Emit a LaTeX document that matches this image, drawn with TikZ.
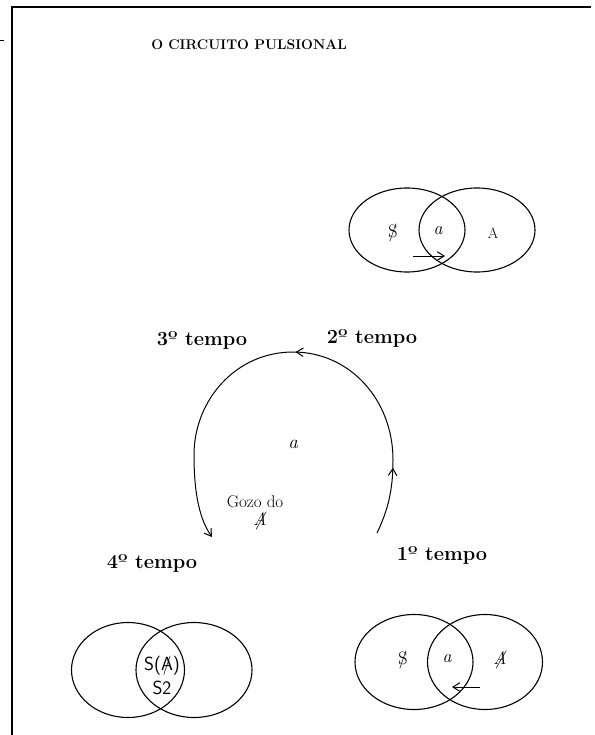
\documentclass[tikz,border=0pt]{standalone}
\usepackage{fontspec}
\usetikzlibrary{positioning, arrows.meta, shapes.geometric, decorations.markings}
\newcommand{\barrado}[1]{\ooalign{#1\cr\hidewidth/\hidewidth}}

\begin{document}
\begin{tikzpicture}[x=1pt, y=-1pt,
      conjunto/.style={draw, ellipse, line width=1.1pt, inner sep=0pt,
                       minimum width=116pt, minimum height=90pt},
      letra/.style={font=\fontsize{18}{20}\selectfont, inner sep=1pt},
      tempo/.style={font=\fontsize{20}{22}\selectfont\bfseries},
      titulo/.style={font=\fontsize{14}{16}\selectfont\bfseries},
      fio/.style={line width=1.1pt},
      seta/.style={-{Straight Barb[length=2.4mm, width=3mm]}, line width=1pt},
      >={Straight Barb[length=2.4mm, width=3mm]}]
    \useasboundingbox (0,0) rectangle (594,735);
    \draw[line width=2.2pt] (12,735) -- (12,7) -- (591,7);
    \draw[line width=1pt] (0,41) -- (4,41);
    \node[titulo] (titulo) at (249,45) {O CIRCUITO PULSIONAL};

    % primeiro esquema
    \node[conjunto, minimum height=84pt] (sujA) at (407,230) {};
    \node[conjunto, minimum height=84pt] (outA) at (477,230) {};
    \node[letra] (sA) at (393,233) {\barrado{S}};
    \node[letra] (aA) at (438,231) {\itshape a};
    \node[letra, font=\fontsize{15}{17}\selectfont] (oA) at (493,233) {A};
    \coordinate (iniA) at (413,256);
    \coordinate (fimA) at (445,256);
    \draw[seta] (iniA) -- (fimA);

    % o circuito
    \coordinate (c1) at (377,533);
    \coordinate (c2) at (393,460);
    \coordinate (c3) at (293,352);
    \coordinate (c4) at (194,455);
    \coordinate (c5) at (212,537);
    \draw[fio, seta, postaction={decorate}, decoration={markings,
          mark=at position 0.14 with {\arrow{>}},
          mark=at position 0.49 with {\arrow{>}}}]
      (c1) .. controls (388,510) and (393,490) .. (c2)
           .. controls (393,400) and (350,352) .. (c3)
           .. controls (236,352) and (194,400) .. (c4)
           .. controls (194,495) and (200,520) .. (c5);
    \node[tempo] (t1) at (442,555) {1º tempo};
    \node[tempo] (t2) at (372,338) {2º tempo};
    \node[tempo] (t3) at (202,340) {3º tempo};
    \node[tempo] (t4) at (152,563) {4º tempo};
    \node[letra, font=\fontsize{19}{21}\selectfont] (centro) at (293,444) {\itshape a};
    \node[font=\fontsize{17}{19}\selectfont, inner sep=1pt] (gozo) at (255,502) {Gozo do};
    \node[letra, font=\fontsize{18}{20}\selectfont\itshape] (gozoA) at (260,521) {\barrado{A}};

    % quarto tempo
    \node[conjunto, minimum width=113pt, minimum height=95pt] (sujB) at (128,670) {};
    \node[conjunto, minimum height=95pt] (outB) at (194,670) {};
    \node[letra, font=\fontsize{19}{21}\selectfont\sffamily] (sB) at (162,666) {S(\barrado{A})};
    \node[letra, font=\fontsize{19}{21}\selectfont\sffamily] (s2) at (162,688) {S2};

    % primeiro tempo
    \node[conjunto, minimum width=118pt, minimum height=95pt] (sujC) at (414,662) {};
    \node[conjunto, minimum width=115pt, minimum height=95pt] (outC) at (485,662) {};
    \node[letra] (sC) at (403,660) {\barrado{S}};
    \node[letra] (aC) at (447,659) {\itshape a};
    \node[letra] (oC) at (500,660) {\itshape\barrado{A}};
    \coordinate (iniC) at (480,687);
    \coordinate (fimC) at (452,687);
    \draw[seta] (iniC) -- (fimC);
  \end{tikzpicture}
\end{document}
